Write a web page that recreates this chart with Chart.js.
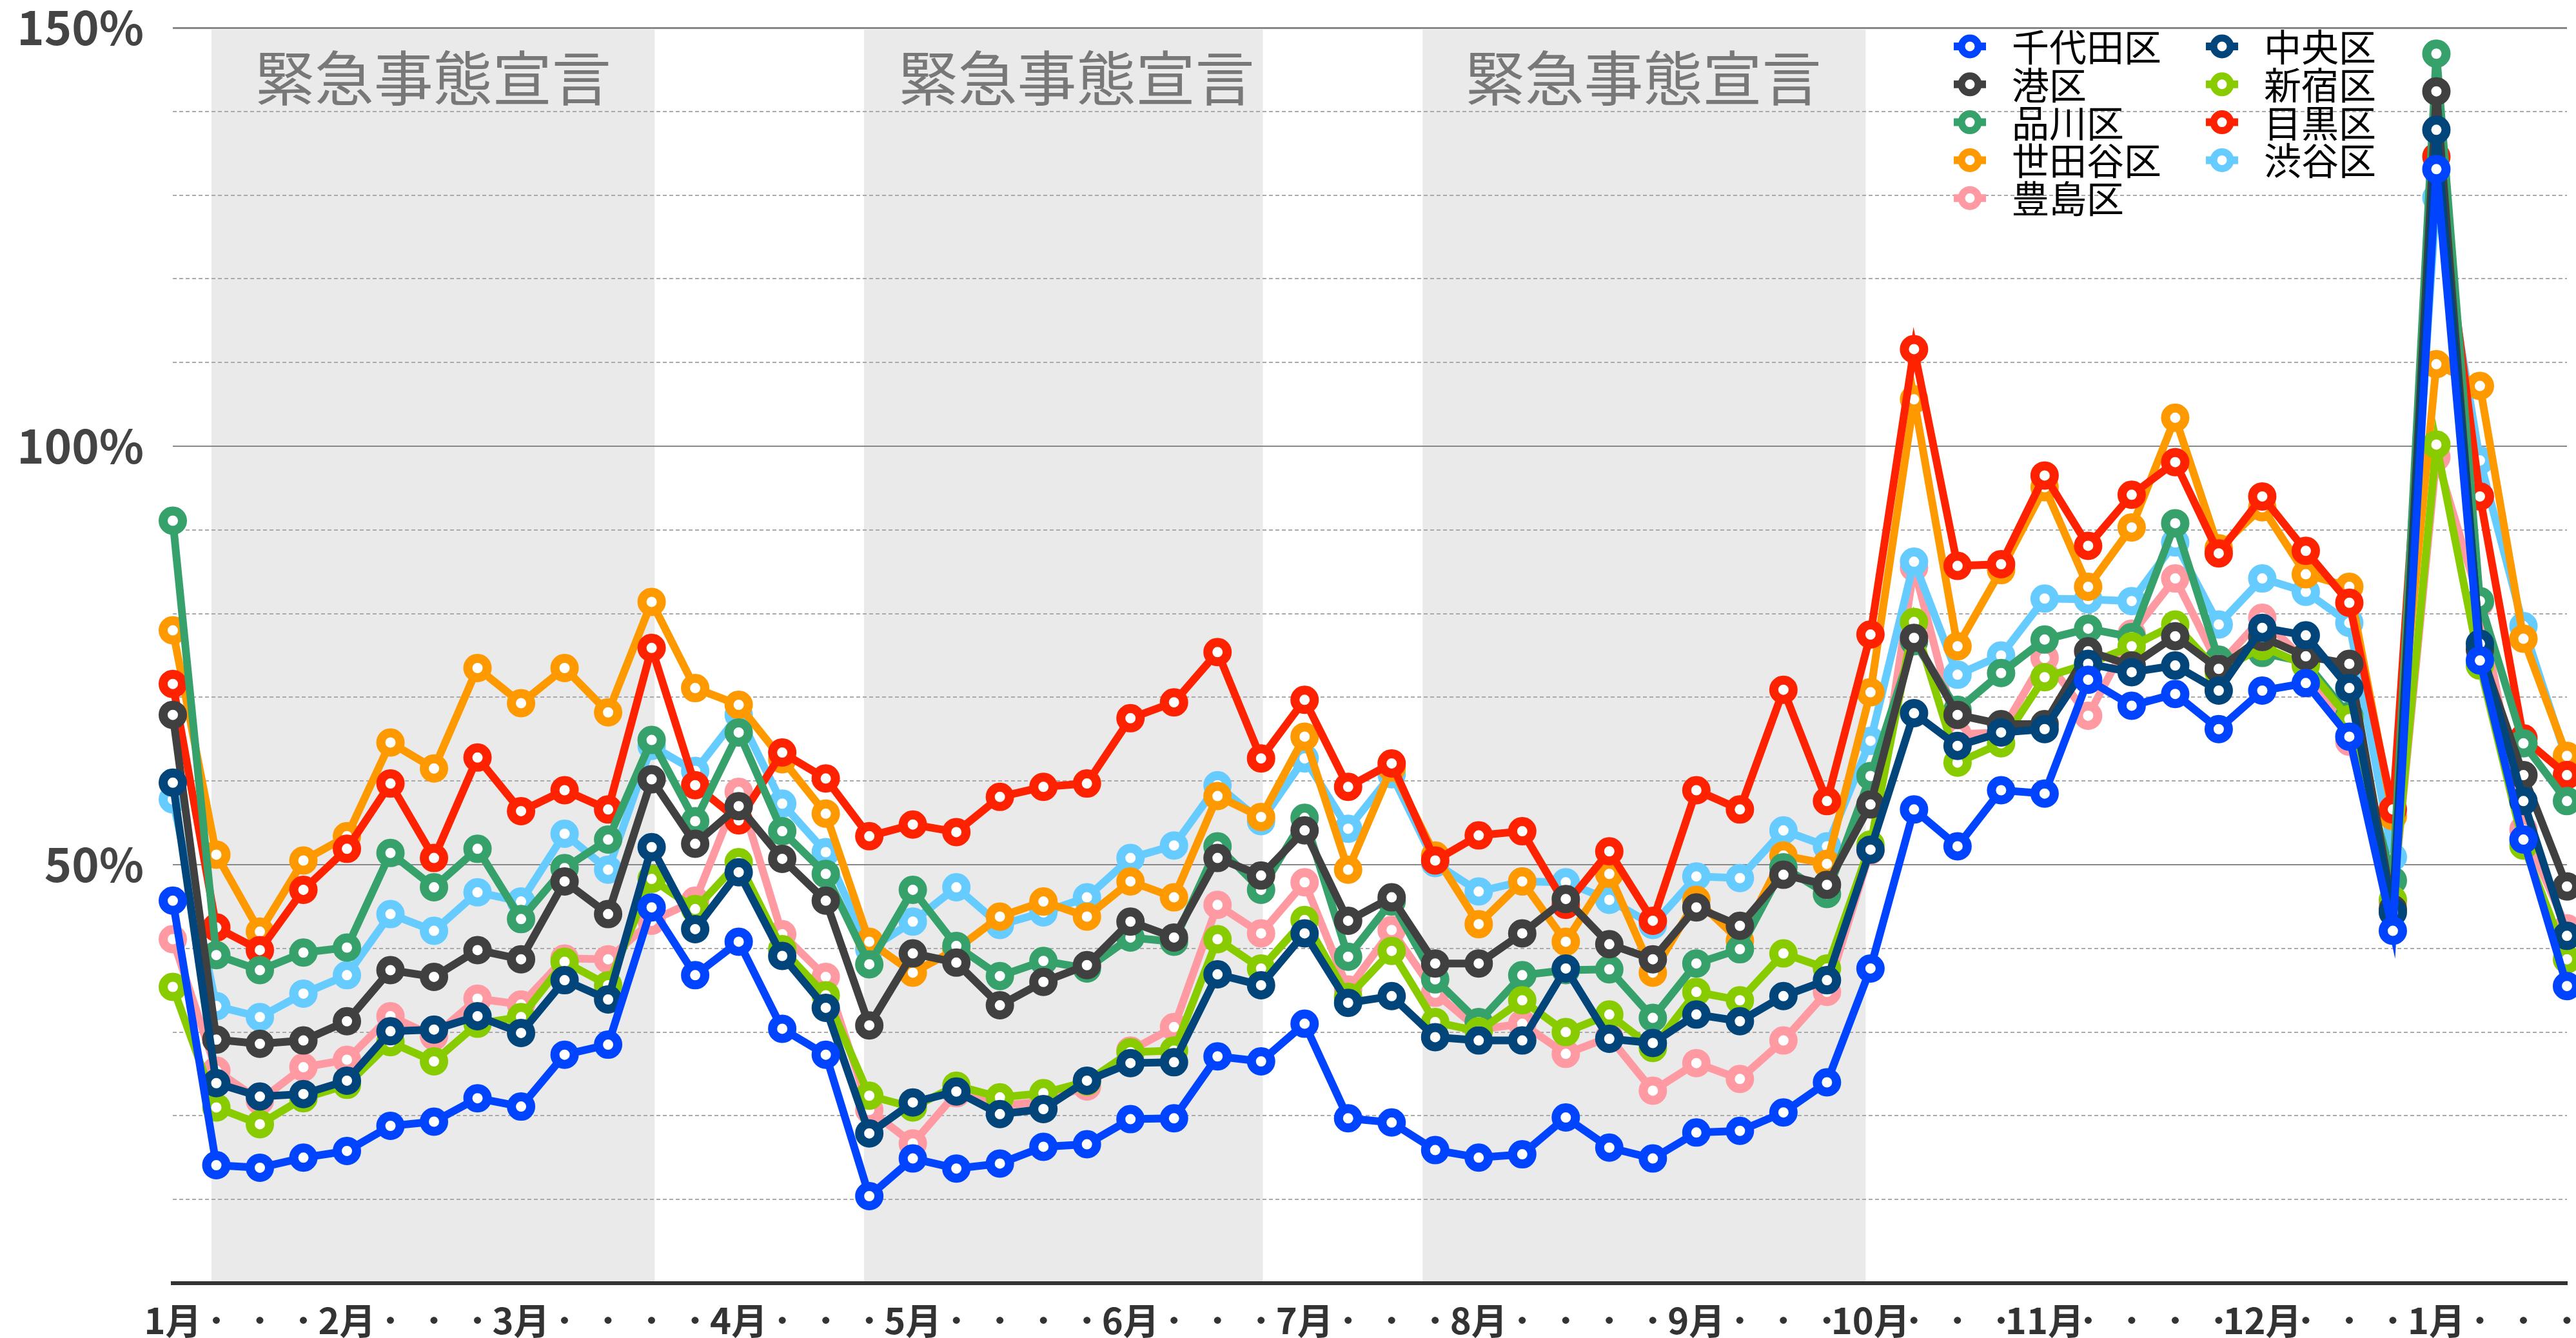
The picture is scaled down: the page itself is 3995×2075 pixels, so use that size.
<!DOCTYPE html>
<html lang="ja">
<head>
<meta charset="utf-8">
<title>東京都 区別 2019年同月比</title>
<script src="https://cdn.jsdelivr.net/npm/chart.js@4/dist/chart.umd.min.js"></script>
<style>
html,body{margin:0;padding:0;background:#ffffff;}
#wrap{position:relative;width:3995px;height:2075px;overflow:hidden;}
canvas{display:block;}
</style>
</head>
<body>
<div id="wrap"><canvas id="c" width="3995" height="2075"></canvas></div>
<script>
// ---- categories (weekly, Jan 2021 - Jan 2022) ----
const weekLabels = [
  "1月","･","･","･","2月","･","･","･","3月","･","･","･","･","4月",
  "･","･","･","5月","･","･","･","･","6月","･","･","･","7月","･",
  "･","･","8月","･","･","･","･","9月","･","･","･","10月","･","･",
  "･","11月","･","･","･","･","12月","･","･","･","1月","･","･","･"
];

const wardNames = ["千代田区","中央区","港区","新宿区","品川区","目黒区","世田谷区","渋谷区","豊島区"];

// ---- series values (% vs same month 2019) ----
const chiyoda = [45.7,14.1,13.8,15.0,15.8,18.8,19.3,22.1,21.1,27.3,28.5,44.9,36.8,40.8,30.4,27.3,10.4,14.9,13.7,14.3,16.3,16.6,19.6,19.7,27.1,26.5,31.0,19.7,19.2,15.9,15.0,15.4,19.8,16.2,14.9,18.0,18.2,20.4,24.0,37.6,56.6,52.2,58.9,58.5,72.1,69.0,70.4,66.2,70.8,71.7,65.3,42.1,133.1,74.4,53.0,35.5];
const chuo     = [59.8,23.9,22.3,22.6,24.2,30.1,30.3,31.9,29.9,36.2,33.9,52.1,42.3,49.1,39.1,32.9,17.9,21.6,22.9,20.2,20.8,24.2,26.3,26.4,36.9,35.6,41.8,33.5,34.3,29.4,29.0,29.0,37.6,29.2,28.7,32.1,31.3,34.3,36.2,51.8,68.1,64.2,65.8,66.2,74.0,73.0,73.8,70.8,78.3,77.4,71.1,44.3,137.8,76.4,57.6,41.5];
const minato   = [67.9,29.1,28.6,29.0,31.3,37.4,36.6,39.8,38.7,48.0,44.1,60.2,52.5,57.0,50.7,45.7,30.8,39.4,38.3,33.2,36.0,38.0,43.2,41.3,50.8,48.7,54.1,43.3,46.1,38.2,38.2,41.8,45.9,40.5,38.7,44.9,42.7,48.8,47.6,57.2,77.1,67.9,66.8,66.8,75.5,73.8,77.3,73.4,77.2,74.9,74.0,44.7,142.4,75.7,60.7,47.4];
const shinjuku = [35.4,21.0,19.0,22.1,23.7,28.8,26.5,31.0,31.8,38.4,35.6,48.3,44.7,50.3,39.9,34.4,22.4,21.0,23.6,22.2,22.7,24.1,27.6,27.8,41.1,37.6,43.4,34.2,39.7,31.2,30.1,33.8,30.0,32.1,28.1,34.8,33.8,39.4,37.6,52.4,79.0,62.2,64.5,72.4,74.0,76.1,78.7,73.0,76.1,73.8,67.4,45.8,100.2,73.8,52.3,38.7];
const shinagawa= [91.1,39.2,37.4,39.5,40.1,51.4,47.3,51.9,43.5,49.6,53.0,64.9,55.2,65.8,54.0,48.9,38.1,47.0,40.3,36.7,38.5,37.6,41.3,40.8,52.2,47.0,55.6,39.0,45.6,36.3,31.2,36.8,37.4,37.5,31.7,38.2,39.9,49.7,46.5,60.6,76.7,68.5,72.9,76.9,78.2,77.2,90.8,74.5,75.3,74.2,67.8,48.1,146.9,81.5,64.5,57.6];
const meguro   = [71.6,42.5,39.8,47.0,51.9,59.7,50.8,62.8,56.4,58.9,56.6,75.9,59.5,55.3,63.4,60.3,53.4,54.8,53.9,58.1,59.3,59.7,67.5,69.4,75.4,62.7,69.7,59.3,62.1,50.5,53.5,54.0,45.2,51.6,43.3,58.9,56.6,70.9,57.6,77.5,111.6,85.7,85.9,96.5,88.1,94.2,98.1,87.2,94.0,87.5,81.3,56.6,134.6,94.0,65.1,60.7];
const setagaya = [78.0,51.2,42.0,50.5,53.4,64.6,61.5,73.5,69.3,73.5,68.2,81.4,71.1,69.1,62.6,56.1,40.8,37.1,39.9,43.8,45.6,43.8,48.0,46.1,58.2,55.7,65.3,49.4,61.6,51.1,42.9,48.0,40.8,48.9,37.1,45.8,40.9,51.1,50.1,70.6,105.6,76.1,85.2,95.1,83.2,90.3,103.4,87.8,92.7,84.7,83.2,55.8,109.8,107.2,77.0,63.0];
const shibuya  = [57.8,33.1,31.8,34.6,36.8,44.1,42.1,46.7,45.6,53.7,49.4,64.2,61.2,67.9,57.3,51.5,39.9,43.2,47.3,42.8,44.3,46.1,50.8,52.3,59.5,55.2,62.7,54.3,60.8,50.2,46.8,48.0,47.9,45.8,42.8,48.6,48.4,54.1,52.2,64.8,86.2,72.7,75.0,81.8,81.7,81.5,88.5,78.7,84.2,82.6,78.9,50.9,129.7,98.3,78.5,62.5];
const toshima  = [41.1,25.4,21.8,25.8,26.7,31.9,29.5,34.0,33.3,38.8,38.7,43.3,45.7,58.7,41.7,36.6,20.7,16.7,22.7,21.2,21.7,23.5,27.8,30.6,45.2,41.8,47.9,35.1,42.2,34.7,30.3,31.0,27.4,29.4,23.0,26.3,24.4,29.0,34.8,51.7,85.5,65.6,65.8,74.7,67.8,77.6,84.2,73.8,79.5,74.2,64.7,45.5,98.7,81.3,54.2,42.4];

// ---- emergency declaration periods (in week-index units) ----
const emergencyStart = [0.89, 15.88, 28.71];
const emergencyEnd   = [11.07, 25.04, 38.89];
const emergencyTextAt = [5.98, 20.76, 33.78];
const emergencyLabel = "緊急事態宣言";

// ---- styling ----
const seriesValues = [chiyoda, chuo, minato, shinjuku, shinagawa, meguro, setagaya, shibuya, toshima];
const wardColors = ["#0044ff","#02457a","#404040","#88cc00","#37a16b","#ff2200","#ff9900","#66ccff","#ff9aa3"];
const JP = '"Noto Sans CJK JP", "Noto Sans", sans-serif';

const emergencyPlugin = {
  id: 'emergency',
  beforeDraw(chart) {
    const {ctx, chartArea} = chart;
    const xs = chart.scales.x, ys = chart.scales.y;
    ctx.save();
    for (let i = 0; i < emergencyStart.length; i++) {
      const x0 = xs.getPixelForValue(emergencyStart[i]);
      const x1 = xs.getPixelForValue(emergencyEnd[i]);
      const top = ys.getPixelForValue(150) + 3;
      ctx.fillStyle = '#eaeaea';
      ctx.fillRect(x0, top, x1 - x0, chartArea.bottom - top);
      ctx.fillStyle = '#787878';
      ctx.font = '400 92px ' + JP;
      ctx.textAlign = 'center';
      ctx.textBaseline = 'middle';
      ctx.fillText(emergencyLabel, xs.getPixelForValue(emergencyTextAt[i]), ys.getPixelForValue(144));
    }
    ctx.restore();
  }
};

const legendPlugin = {
  id: 'wardLegend',
  afterDraw(chart) {
    const {ctx, chartArea} = chart;
    const col0 = chartArea.right - 926, colGap = 391;
    const row0 = chartArea.top + 29, rowGap = 58.8;
    ctx.save();
    chart.data.datasets.forEach((ds, k) => {
      const cx = col0 + (k % 2) * colGap;
      const cy = row0 + Math.floor(k / 2) * rowGap;
      ctx.strokeStyle = ds.borderColor;
      ctx.lineWidth = 12;
      ctx.beginPath(); ctx.moveTo(cx - 25, cy); ctx.lineTo(cx + 25, cy); ctx.stroke();
      ctx.beginPath(); ctx.arc(cx, cy, 13, 0, Math.PI * 2);
      ctx.fillStyle = '#ffffff'; ctx.fill();
      ctx.lineWidth = 11; ctx.stroke();
      ctx.fillStyle = '#000000';
      ctx.font = '400 58px ' + JP;
      ctx.textAlign = 'left';
      ctx.textBaseline = 'middle';
      ctx.fillText(ds.label, cx + 65, cy + 1);
    });
    ctx.restore();
  }
};

const datasets = wardNames.map((name, i) => ({
  label: name,
  data: seriesValues[i],
  borderColor: wardColors[i],
  backgroundColor: wardColors[i],
  borderWidth: 12,
  pointRadius: 15,
  pointHoverRadius: 15,
  pointBorderWidth: 14,
  pointBackgroundColor: '#ffffff',
  pointBorderColor: wardColors[i],
  tension: 0,
  fill: false,
  clip: false
}));

new Chart(document.getElementById('c'), {
  type: 'line',
  data: { labels: weekLabels, datasets },
  plugins: [emergencyPlugin, legendPlugin],
  options: {
    responsive: false,
    animation: false,
    devicePixelRatio: 1,
    events: [],
    layout: { autoPadding: false, padding: { top: 43, right: 14, bottom: 0, left: 0 } },
    plugins: { legend: { display: false }, tooltip: { enabled: false }, title: { display: false } },
    scales: {
      x: {
        type: 'category',
        offset: false,
        grid: { display: false, drawTicks: false },
        border: { display: true, color: '#333333', width: 6 },
        ticks: {
          autoSkip: false, maxRotation: 0, minRotation: 0, padding: 24,
          color: '#333333',
          font: { family: JP, size: 56, weight: 'bold' }
        },
        afterFit(s) { s.height = 85; s.paddingLeft = 0; s.paddingRight = 0; }
      },
      y: {
        min: 0, max: 150,
        grid: {
          drawTicks: false,
          color: c => (c.tick && c.tick.value === 0) ? 'rgba(0,0,0,0)' : (c.tick && c.tick.value % 50 === 0 ? '#888888' : '#aaaaaa'),
          lineWidth: c => (c.tick && c.tick.value === 150) ? 3 : 2
        },
        border: {
          display: false,
          dash: c => (c.tick && c.tick.value % 50 !== 0) ? [6, 4] : []
        },
        ticks: {
          stepSize: 10, padding: 45, color: '#444444',
          font: { family: JP, size: 72, weight: 'bold' },
          callback: v => (v % 50 === 0 && v > 0) ? v + '%' : ''
        },
        afterFit(s) { s.width = 268; s.paddingTop = 0; s.paddingBottom = 0; }
      }
    }
  }
});
</script>
</body>
</html>
